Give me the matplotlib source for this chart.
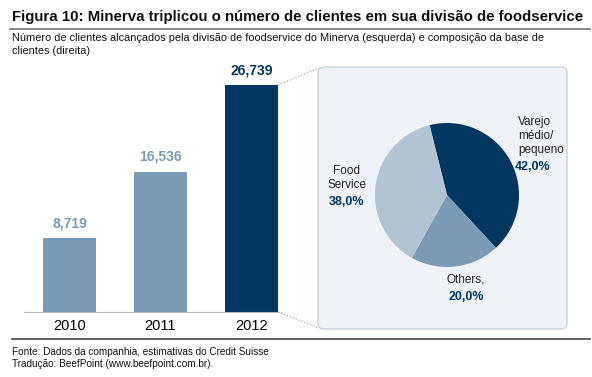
import matplotlib
matplotlib.use("Agg")
import matplotlib.pyplot as plt
from matplotlib.patches import FancyBboxPatch

plt.rcParams['font.family'] = ['Liberation Sans', 'DejaVu Sans']

# ---- data ----
years = ["2010", "2011", "2012"]
clients = [8719, 16536, 26739]
value_labels = ["8,719", "16,536", "26,739"]
pie_labels = ["Varejo\nmédio/\npequeno", "Others,", "Food\nService"]
pie_values = [42.0, 20.0, 38.0]
pie_pct = ["42,0%", "20,0%", "38,0%"]

NAVY = "#00365f"
MID = "#7b9bb5"
LIGHT = "#b2c4d4"
bar_colors = [MID, MID, NAVY]
pie_colors = [NAVY, MID, LIGHT]

W, H = 592, 377
fig = plt.figure(figsize=(W / 100, H / 100), dpi=100)

def px_axes(x0, y0, x1, y1, **kw):
    return fig.add_axes([x0 / W, 1 - y1 / H, (x1 - x0) / W, (y1 - y0) / H], **kw)

# background axes in pixel coordinates
bg = px_axes(0, 0, W, H)
bg.set_xlim(0, W)
bg.set_ylim(H, 0)
bg.axis("off")

bg.text(12, 17, "Figura 10: Minerva triplicou o número de clientes em sua divisão de foodservice",
        fontsize=10.8, fontweight="bold", va="center", ha="left", color="#111111")
bg.plot([10, 590], [28.5, 28.5], color="#8a8a8a", lw=1.4)
bg.text(12, 38, "Número de clientes alcançados pela divisão de foodservice do Minerva (esquerda) e composição da base de",
        fontsize=7.9, va="center", ha="left", color="#111111")
bg.text(12, 51, "clientes (direita)", fontsize=7.9, va="center", ha="left", color="#111111")
bg.plot([12, 590], [338.5, 338.5], color="#444444", lw=1.2)
bg.text(12, 352, "Fonte: Dados da companhia, estimativas do Credit Suisse",
        fontsize=7.2, va="center", ha="left", color="#111111")
bg.text(12, 364, "Tradução: BeefPoint (www.beefpoint.com.br).",
        fontsize=7.2, va="center", ha="left", color="#111111")

# panel
panel = FancyBboxPatch((318, 67), 249, 262, boxstyle="round,pad=0,rounding_size=6",
                       facecolor="#eff3f7", edgecolor="#c9d0d8", lw=1.0)
bg.add_patch(panel)

# ---- bar chart ----
ax = px_axes(24, 60, 300, 312)
ax.patch.set_alpha(0)
xpos = list(range(len(years)))
bars = ax.bar(xpos, clients, width=0.585, color=bar_colors, zorder=2)
ax.set_xlim(-0.5, 2.533)
ax.set_ylim(0, clients[2] * 252 / 227)
for s in ["top", "right", "left"]:
    ax.spines[s].set_visible(False)
ax.spines["bottom"].set_color("#b5b5b5")
ax.spines["bottom"].set_bounds(-0.5, 2.3)
ax.set_yticks([])
ax.set_xticks(xpos)
ax.set_xticklabels(years, fontsize=10.5)
ax.tick_params(axis="x", length=0, pad=5)
for b, lab, c in zip(bars, value_labels, bar_colors):
    ax.annotate(lab, (b.get_x() + b.get_width() / 2, b.get_height()),
                xytext=(0, 5.5), textcoords="offset points", ha="center", va="bottom",
                fontsize=10, fontweight="bold", color=c)

# connector lines from last bar to panel
fig.canvas.draw()
last = bars[-1]
to_bg = bg.transData.inverted()
tr = to_bg.transform(ax.transData.transform((last.get_x() + last.get_width(), last.get_height())))
br = to_bg.transform(ax.transData.transform((last.get_x() + last.get_width(), 0)))
bg.plot([tr[0], 319], [tr[1], 68], color="#aaaaaa", lw=0.9, ls=(0, (1, 1.5)))
bg.plot([br[0], 319], [br[1], 328], color="#aaaaaa", lw=0.9, ls=(0, (1, 1.5)))

# ---- pie ----
cx, cy, r = 447, 195, 72
pa = px_axes(cx - 100, cy - 100, cx + 100, cy + 100)
pa.patch.set_alpha(0)
pa.pie(pie_values, colors=pie_colors, startangle=104, counterclock=False,
       radius=1, wedgeprops=dict(linewidth=0))
lim = 100 / r
pa.set_xlim(-lim, lim)
pa.set_ylim(-lim, lim)
pa.set_aspect("equal")
pa.axis("off")

def ptxt(x, y, s, **kw):
    pa.text((x - cx) / r, (cy - y) / r, s, clip_on=False, **kw)

# Varejo
ptxt(518, 136, pie_labels[0], fontsize=8.5, ha="left", va="center", color="#222222", linespacing=1.2)
ptxt(515, 167, pie_pct[0], fontsize=9, fontweight="bold", ha="left", va="center", color=NAVY)
# Food Service
ptxt(347, 178, pie_labels[2], fontsize=8.5, ha="center", va="center", color="#222222", linespacing=1.2)
ptxt(347, 202, pie_pct[2], fontsize=9, fontweight="bold", ha="center", va="center", color=NAVY)
# Others
ptxt(466, 280, pie_labels[1], fontsize=8.5, ha="center", va="center", color="#222222")
ptxt(466, 297, pie_pct[1], fontsize=9, fontweight="bold", ha="center", va="center", color=NAVY)

fig.savefig("out.png", dpi=100)
